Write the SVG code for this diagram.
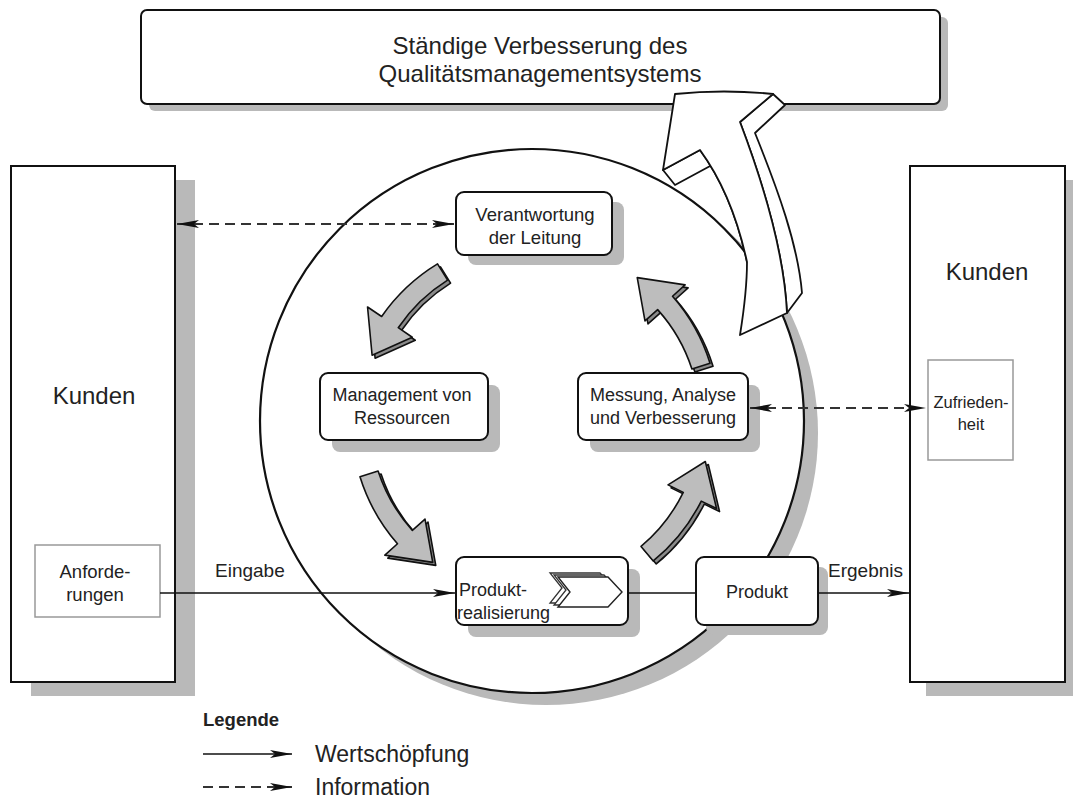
<svg xmlns="http://www.w3.org/2000/svg" width="1073" height="798" viewBox="0 0 1073 798">
<style>
.sh{fill:#b9b9b9;stroke:none}
.box{fill:#fff;stroke:#111;stroke-width:2}
.thin{fill:#fff;stroke:#999;stroke-width:1.5}
.t{font-family:"Liberation Sans",Arial,sans-serif;fill:#222;text-anchor:middle}
.tl{font-family:"Liberation Sans",Arial,sans-serif;fill:#222}
.sol{stroke:#111;stroke-width:1.6;fill:none}
.dash{stroke:#333;stroke-width:2;fill:none;stroke-dasharray:10 6}
.garr{fill:#bdbdbd;stroke:#111;stroke-width:1.6;stroke-linejoin:round}
.garrb{fill:#8a8a8a;stroke:#111;stroke-width:1.6;stroke-linejoin:round}
.warr{fill:#fff;stroke:#111;stroke-width:1.8;stroke-linejoin:round}
</style>
<defs>
<marker id="ah" viewBox="0 0 22 8" refX="22" refY="4" markerWidth="22" markerHeight="8" markerUnits="userSpaceOnUse" orient="auto-start-reverse">
<path d="M0,0 L22,4 L0,8 L5,4 Z" fill="#111"/>
</marker>
<path id="ca" d="M175.0,56.9 A185,185 0 0 0 184.0,-19.3 L200.9,-21.1 L166.4,-55.1 L147.2,-15.5 L164.1,-17.2 A165,165 0 0 1 156.9,51.0 Z"/>
</defs>

<g id="top-box">
<rect class="sh" x="149" y="17" width="799" height="94" rx="6"/>
<rect class="box" x="141" y="10" width="799" height="94" rx="6"/>
<text class="t" x="540" y="54" font-size="24">Ständige Verbesserung des</text>
<text class="t" x="540" y="82" font-size="24">Qualitätsmanagementsystems</text>
</g>

<g id="kunden-left">
<rect class="sh" x="31" y="180" width="164" height="516"/>
<rect class="box" x="11" y="166" width="164" height="516"/>
<text class="t" x="94" y="404" font-size="24">Kunden</text>
</g>
<g id="anforderungen">
<rect class="thin" x="35" y="545" width="125" height="72"/>
<text class="t" x="95" y="578" font-size="18.5">Anforde-</text>
<text class="t" x="95" y="601" font-size="18.5">rungen</text>
</g>

<g id="kunden-right">
<rect class="sh" x="926" y="180" width="164" height="516"/>
<rect class="box" x="910" y="166" width="155" height="516"/>
<text class="t" x="987" y="280" font-size="24">Kunden</text>
</g>
<g id="zufriedenheit">
<rect class="thin" x="928" y="360" width="85" height="100"/>
<text class="t" x="971" y="408" font-size="16.5">Zufrieden-</text>
<text class="t" x="971" y="430" font-size="16.5">heit</text>
</g>

<g id="circle">
<circle class="sh" cx="546" cy="433" r="272"/>
<circle cx="532" cy="421" r="272" fill="#fff" stroke="#111" stroke-width="2.2"/>
</g>

<g id="cycle-arrows">
<use href="#ca" class="garrb" transform="translate(538,423) rotate(-140)"/>
<use href="#ca" class="garr" transform="translate(535,420) rotate(-140)"/>
<use href="#ca" class="garrb" transform="translate(538,423) rotate(144)"/>
<use href="#ca" class="garr" transform="translate(535,420) rotate(144)"/>
<use href="#ca" class="garrb" transform="translate(538,423) rotate(32)"/>
<use href="#ca" class="garr" transform="translate(535,420) rotate(32)"/>
<use href="#ca" class="garrb" transform="translate(538,423) rotate(-36)"/>
<use href="#ca" class="garr" transform="translate(535,420) rotate(-36)"/>
</g>

<g id="verantwortung">
<rect class="sh" x="468" y="202" width="156" height="63" rx="8"/>
<rect class="box" x="456" y="192" width="156" height="63" rx="8"/>
<text class="t" x="535" y="221" font-size="18.5">Verantwortung</text>
<text class="t" x="535" y="244" font-size="18.5">der Leitung</text>
</g>

<g id="management">
<rect class="sh" x="332" y="385" width="168" height="67" rx="8"/>
<rect class="box" x="320" y="373" width="168" height="67" rx="8"/>
<text class="t" x="402" y="401" font-size="18">Management von</text>
<text class="t" x="402" y="424" font-size="18">Ressourcen</text>
</g>

<g id="messung">
<rect class="sh" x="590" y="385" width="170" height="67" rx="8"/>
<rect class="box" x="578" y="373" width="170" height="67" rx="8"/>
<text class="t" x="663" y="401" font-size="18">Messung, Analyse</text>
<text class="t" x="663" y="424" font-size="18">und Verbesserung</text>
</g>

<g id="produktrealisierung">
<rect class="sh" x="468" y="569" width="172" height="68" rx="8"/>
<rect class="box" x="456" y="557" width="172" height="68" rx="8"/>
<path d="M550,573 L600,573 L614,588 L600,603 L550,603 L562,588 Z" fill="#fff" stroke="#333" stroke-width="1.3"/>
<path d="M554,575 L604,575 L618,590 L604,605 L554,605 L566,590 Z" fill="#fff" stroke="#333" stroke-width="1.3"/>
<path d="M558,577 L608,577 L622,592 L608,607 L558,607 L570,592 Z" fill="#fff" stroke="#222" stroke-width="1.4"/>
<text class="tl" x="459" y="596" font-size="18">Produkt-</text>
<text class="tl" x="457" y="619" font-size="18">realisierung</text>
</g>

<g id="produkt">
<rect class="sh" x="706" y="567" width="122" height="68" rx="8"/>
<rect class="box" x="696" y="557" width="122" height="68" rx="8"/>
<text class="t" x="757" y="598" font-size="18">Produkt</text>
</g>

<g id="improvement-arrow">
<path class="warr" d="M773,94 L785,105 L755,133 C778,190 798,245 802,293 L787,313 C784,250 762,180 740,122 Z"/>
<path class="warr" d="M663,170 L675,185 L712,165 C728,195 740,225 747,262 C738,220 722,180 700,150 Z"/>
<path class="warr" d="M675,94 Q724,89 773,94 L740,122 C762,180 784,250 787,313 L740,335 C744,310 747,285 747,262 C738,220 722,180 700,150 L663,170 Z"/>
</g>

<g id="connectors">
<line class="dash" x1="177" y1="224" x2="454" y2="224" marker-start="url(#ah)" marker-end="url(#ah)"/>
<line class="dash" x1="750" y1="408" x2="926" y2="408" marker-start="url(#ah)" marker-end="url(#ah)"/>
<line class="sol" x1="160" y1="593" x2="455" y2="593" marker-end="url(#ah)"/>
<line class="sol" x1="628" y1="593" x2="696" y2="593"/>
<line class="sol" x1="818" y1="593" x2="909" y2="593" marker-end="url(#ah)"/>
<text class="tl" x="215" y="577" font-size="19">Eingabe</text>
<text class="tl" x="828" y="577" font-size="19">Ergebnis</text>
</g>

<g id="legend">
<text class="tl" x="203" y="726" font-size="18.5" font-weight="bold">Legende</text>
<line class="sol" x1="203" y1="754" x2="292" y2="754" stroke-width="2" marker-end="url(#ah)"/>
<text class="tl" x="315" y="762" font-size="23">Wertschöpfung</text>
<line x1="203" y1="787" x2="292" y2="787" stroke="#333" stroke-width="2" stroke-dasharray="10 6" marker-end="url(#ah)"/>
<text class="tl" x="315" y="795" font-size="23">Information</text>
</g>
</svg>
